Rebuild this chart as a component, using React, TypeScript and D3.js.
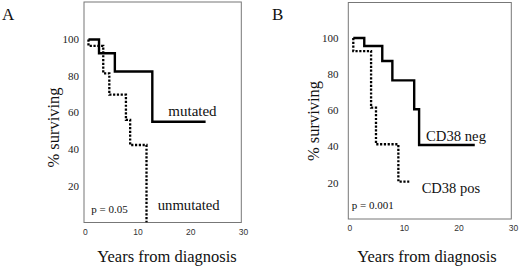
import React from "react";
import * as d3 from "d3";

const yTicks = [20, 40, 60, 80, 100];
const xTicks = [0, 10, 20, 30];

// Panel A: years, % surviving
const mutatedYears = [0.6, 2.6, 5.6, 12.7, 22.8];
const mutatedSurv = [100, 92.5, 82.5, 55, 55];
const unmutatedYears = [0.6, 0.6, 3.4, 4.55, 7.7, 8.5, 11.6];
const unmutatedSurv = [100, 96.5, 81.5, 69.8, 56, 42.3, 0];

// Panel B
const negYears = [0.64, 2.65, 5.95, 7.8, 11.8, 12.7, 22.9];
const negSurv = [100, 95.6, 87.3, 76.6, 60.6, 40.9, 40.9];
const posYears = [0.64, 0.64, 3.9, 4.8, 8.9, 10.9];
const posSurv = [100, 92.8, 61.5, 41.3, 20.6, 20.6];

type Series = { years: number[]; surv: number[]; dotted: boolean };

type PanelCfg = {
  letter: string;
  letterX: number;
  xr: [number, number];
  yr: [number, number];
  box: [number, number, number, number];
  tickLabelRight: number;
  series: Series[];
  labels: { text: string; x: number; y: number; size: number }[];
  pText: string;
  pX: number;
  pY: number;
  yTitleX: number;
  yTitleY: number;
  xTitleX: number;
  tickLabelY: number;
};

const panels: PanelCfg[] = [
  {
    letter: "A",
    letterX: 2,
    xr: [85.3, 243.6],
    yr: [222.3, 39.5],
    box: [84, 2, 241.3, 222.5],
    tickLabelRight: 79,
    series: [
      { years: mutatedYears, surv: mutatedSurv, dotted: false },
      { years: unmutatedYears, surv: unmutatedSurv, dotted: true },
    ],
    labels: [
      { text: "mutated", x: 168.3, y: 115.5, size: 15 },
      { text: "unmutated", x: 157.7, y: 210, size: 14.7 },
    ],
    pText: "p = 0.05",
    pX: 91.3,
    pY: 212.5,
    yTitleX: 58.5,
    yTitleY: 127.5,
    xTitleX: 167,
    tickLabelY: 234.5,
  },
  {
    letter: "B",
    letterX: 272,
    xr: [349.8, 513.5],
    yr: [219, 38],
    box: [348.3, 2.5, 511.3, 219],
    tickLabelRight: 338.5,
    series: [
      { years: negYears, surv: negSurv, dotted: false },
      { years: posYears, surv: posSurv, dotted: true },
    ],
    labels: [
      { text: "CD38 neg", x: 426, y: 141, size: 14.7 },
      { text: "CD38 pos", x: 421.7, y: 192.5, size: 14.5 },
    ],
    pText: "p = 0.001",
    pX: 351.7,
    pY: 208.5,
    yTitleX: 318.5,
    yTitleY: 121,
    xTitleX: 427,
    tickLabelY: 230.5,
  },
];

const serif = "'Liberation Serif', 'Times New Roman', serif";
const sans = "'Liberation Sans', Arial, sans-serif";

function Panel({ p }: { p: PanelCfg }) {
  const x = d3.scaleLinear().domain([0, 30]).range(p.xr);
  const y = d3.scaleLinear().domain([0, 100]).range(p.yr);
  const line = d3
    .line<[number, number]>()
    .x((d) => x(d[0]))
    .y((d) => y(d[1]))
    .curve(d3.curveStepAfter);
  const [bl, bt, br, bb] = p.box;
  return (
    <g>
      <text x={p.letterX} y={20} fontFamily={serif} fontSize={17} fill="#111">
        {p.letter}
      </text>
      <rect x={bl} y={bt} width={br - bl} height={bb - bt} fill="none" stroke="#777" strokeWidth={1} />
      {yTicks.map((t) => (
        <text
          key={t}
          x={p.tickLabelRight}
          y={y(t)}
          dy="0.35em"
          textAnchor="end"
          fontFamily={serif}
          fontSize={11}
          fill="#222"
        >
          {t}
        </text>
      ))}
      {xTicks.map((t) => (
        <text
          key={t}
          x={x(t)}
          y={p.tickLabelY}
          textAnchor="middle"
          fontFamily={sans}
          fontSize={8.5}
          fill="#333"
        >
          {t}
        </text>
      ))}
      {p.series.map((s, i) => {
        const pts = s.years.map((yr, j) => [yr, s.surv[j]] as [number, number]);
        return (
          <path
            key={i}
            d={line(pts) || ""}
            fill="none"
            stroke="#000"
            strokeWidth={s.dotted ? 2.3 : 2.4}
            strokeDasharray={s.dotted ? "2.2,1.6" : undefined}
          />
        );
      })}
      {p.labels.map((l) => (
        <text key={l.text} x={l.x} y={l.y} fontFamily={serif} fontSize={l.size} fill="#111">
          {l.text}
        </text>
      ))}
      <text x={p.pX} y={p.pY} fontFamily={serif} fontSize={11} fill="#111">
        {p.pText}
      </text>
      <text
        transform={`translate(${p.yTitleX},${p.yTitleY}) rotate(-90)`}
        textAnchor="middle"
        fontFamily={serif}
        fontSize={16.5}
        fill="#111"
      >
        % surviving
      </text>
      <text x={p.xTitleX} y={261.5} textAnchor="middle" fontFamily={serif} fontSize={16.5} fill="#111">
        Years from diagnosis
      </text>
    </g>
  );
}

export default function App() {
  return (
    <svg
      width={520}
      height={267}
      viewBox="0 0 520 267"
      style={{ position: "absolute", left: 0, top: 0, background: "#fff" }}
    >
      <rect x={0} y={0} width={520} height={267} fill="#fff" />
      {panels.map((p) => (
        <Panel key={p.letter} p={p} />
      ))}
    </svg>
  );
}
